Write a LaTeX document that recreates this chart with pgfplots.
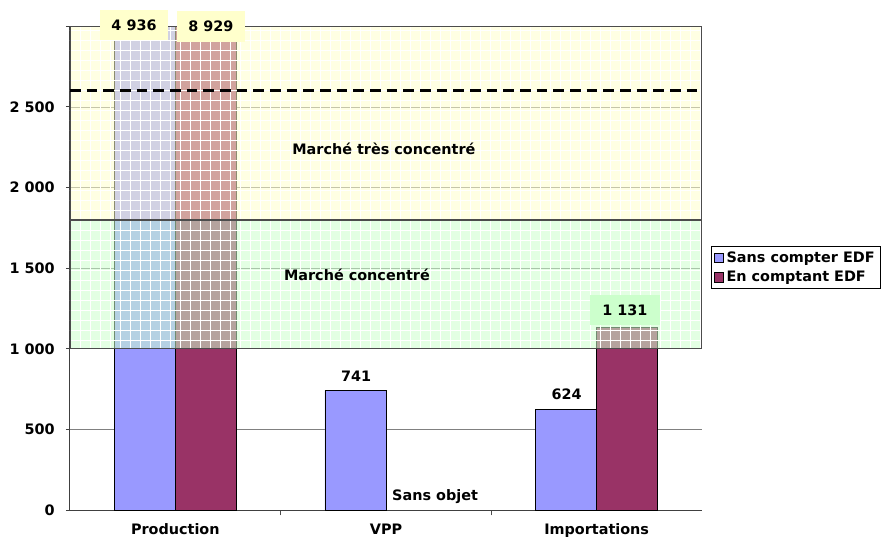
\documentclass[border=0pt]{standalone}
\usepackage{fontspec}
\setmainfont{DejaVu Sans}
\usepackage{pgfplots}
\pgfplotsset{compat=1.18}
\usetikzlibrary{patterns.meta}
\definecolor{sansedf}{HTML}{9999FF}
\definecolor{avecedf}{HTML}{993366}
\definecolor{zonejaune}{HTML}{FFFFCC}
\definecolor{zoneverte}{HTML}{CCFFCC}
\begin{document}
\begin{tikzpicture}
\begin{axis}[name=a,
  scale only axis,width=474pt,height=362.7pt,
  xmin=-0.5,xmax=2.5,ymin=0,ymax=3000,
  clip mode=individual,
  font=\fontsize{10.8}{13}\selectfont\bfseries,
  axis lines=left,axis line style={-,black!75,line width=0.75pt},
  xtick={0,1,2},xticklabels={Production,VPP,Importations},
  major x tick style={draw=none},
  minor xtick={0.5,1.5},minor x tick style={black!70,line width=0.75pt},
  minor tick length=4pt,
  ytick={0,500,1000,1500,2000,2500},extra y ticks={3000},extra y tick labels={},
  major tick length=3pt,tick align=outside,
  ytick style={black!75,line width=0.75pt},
  ymajorgrids,major grid style={black!50,line width=0.6pt},
  /pgf/number format/.cd,1000 sep={\ },assume math mode=true,/pgfplots/.cd,
  yticklabel style={xshift=-5pt},
  xticklabel style={yshift=-4pt},
  legend style={at={(1.014,0.546)},anchor=north west,draw=black,line width=0.6pt,
    font=\fontsize{10.8}{13}\selectfont\bfseries,inner sep=2pt,row sep=1pt},
  legend image code/.code={\draw[#1,draw=black,line width=0.5pt] (0pt,-3.5pt) rectangle (7pt,3.5pt);},
  legend cell align=left]
% barres
\addplot[ybar,bar width=0.29,bar shift=-0.145,fill=sansedf,draw=black,line width=0.6pt]
  coordinates {(0,4936) (1,741) (2,624)};
\addlegendentry{Sans compter EDF}
\addplot[ybar,bar width=0.29,bar shift=0.145,fill=avecedf,draw=black,line width=0.6pt]
  coordinates {(0,8929) (2,1131)};
\addlegendentry{En comptant EDF}
% zones
\addplot[draw=none,fill=zonejaune,fill opacity=0.55,forget plot]
  coordinates {(-0.5,1800) (2.5,1800) (2.5,3000) (-0.5,3000)} -- cycle;
\addplot[draw=none,fill=zoneverte,fill opacity=0.55,forget plot]
  coordinates {(-0.5,1000) (2.5,1000) (2.5,1800) (-0.5,1800)} -- cycle;
\addplot[draw=none,pattern={Lines[angle=0,distance=7.5pt,line width=0.5pt]},pattern color=white,fill opacity=0.3,forget plot]
  coordinates {(-0.5,1000) (2.5,1000) (2.5,3000) (-0.5,3000)} -- cycle;
\addplot[draw=none,pattern={Lines[angle=90,distance=7.5pt,line width=0.5pt]},pattern color=white,fill opacity=0.3,forget plot]
  coordinates {(-0.5,1000) (2.5,1000) (2.5,3000) (-0.5,3000)} -- cycle;
\addplot[draw=black!70,line width=1pt,forget plot]
  coordinates {(-0.5,1800) (2.5,1800) (2.5,3000) (-0.5,3000)} -- cycle;
\addplot[draw=black!70,line width=1pt,forget plot]
  coordinates {(-0.5,1000) (2.5,1000) (2.5,1800) (-0.5,1800)} -- cycle;
% seuil
\addplot[black,line width=2.25pt,dash pattern=on 8pt off 4.5pt,forget plot]
  coordinates {(-0.5,2600) (2.5,2600)};
% etiquettes
\node[fill=zonejaune,minimum width=51pt,minimum height=23pt] at (axis cs:-0.196,3009) {4\ 936};
\node[fill=zonejaune,minimum width=51pt,minimum height=23pt] at (axis cs:0.169,3000) {8\ 929};
\node[fill=zoneverte,minimum width=52pt,minimum height=23pt] at (axis cs:2.134,1241) {1\ 131};
\node at (axis cs:0.858,831) {741};
\node at (axis cs:1.857,715) {624};
\node at (axis cs:1.233,81) {Sans objet};
\node at (axis cs:0.990,2240) {Marché très concentré};
\node at (axis cs:0.862,1458) {Marché concentré};
\end{axis}
\pgfresetboundingbox
\useasboundingbox ([shift={(-52.5pt,-22.5pt)}]a.south west) rectangle ([shift={(609.75pt,382.5pt)}]a.south west);
\end{tikzpicture}
\end{document}
